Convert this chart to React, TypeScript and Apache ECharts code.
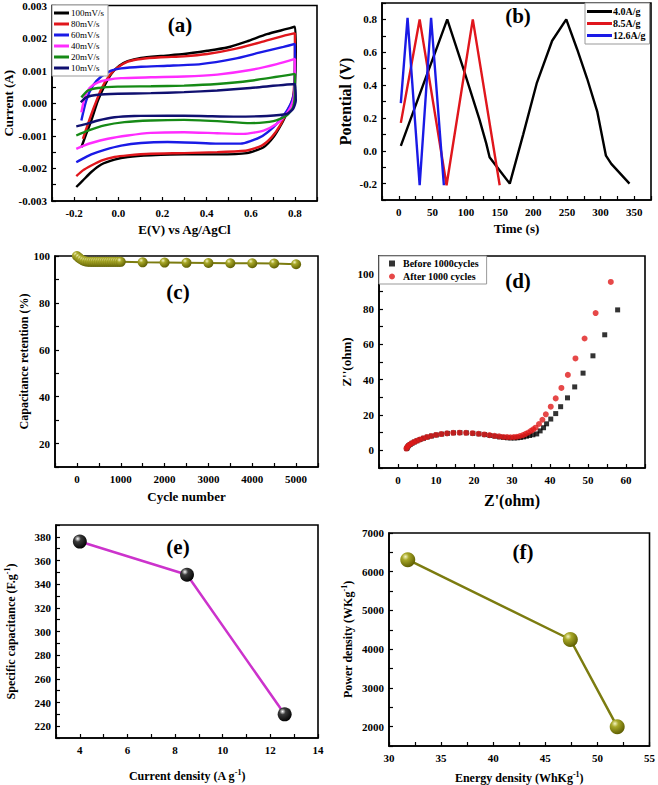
import React, { useEffect, useRef } from "react";
import * as echarts from "echarts";

// ---------- (a) CV curves: [E (V), I (A)] ----------
const cv100: number[][] = [[-0.167,-0.00135],[-0.145,-0.00094],[-0.122,-0.00053],[-0.092,0.00008],[-0.062,0.00054],[-0.032,0.0009],[0.005,0.00115],[0.043,0.00129],[0.103,0.00139],[0.193,0.00145],[0.298,0.00151],[0.403,0.00161],[0.493,0.00171],[0.583,0.0019],[0.673,0.00212],[0.763,0.00228],[0.8,0.00235],[0.804,0.00161],[0.8,0.00049],[0.792,0.00008],[0.77,-0.00022],[0.74,-0.00063],[0.703,-0.00104],[0.658,-0.00135],[0.583,-0.00153],[0.448,-0.00157],[0.298,-0.00157],[0.148,-0.0016],[0.043,-0.00165],[-0.017,-0.00173],[-0.077,-0.00188],[-0.122,-0.00211],[-0.16,-0.00237],[-0.19,-0.00257]];
const cv80: number[][] = [[-0.16,-0.00109],[-0.137,-0.00063],[-0.107,-0.00007],[-0.077,0.00044],[-0.04,0.00085],[-0.002,0.0011],[0.043,0.00128],[0.103,0.00136],[0.193,0.00141],[0.298,0.00144],[0.403,0.00151],[0.523,0.00166],[0.643,0.00187],[0.748,0.00207],[0.8,0.00215],[0.8,0.00131],[0.795,0.00039],[0.785,0.00003],[0.762,-0.00028],[0.733,-0.00068],[0.695,-0.00104],[0.65,-0.0013],[0.583,-0.00145],[0.448,-0.0015],[0.298,-0.00153],[0.148,-0.00155],[0.043,-0.0016],[-0.017,-0.00165],[-0.077,-0.00176],[-0.122,-0.00191],[-0.16,-0.00206],[-0.19,-0.00224]];
const cv60: number[][] = [[-0.167,-0.00053],[-0.145,0.00008],[-0.115,0.00054],[-0.077,0.00082],[-0.032,0.001],[0.013,0.00107],[0.103,0.00112],[0.223,0.00115],[0.373,0.0012],[0.523,0.00136],[0.643,0.00156],[0.748,0.00173],[0.8,0.00182],[0.8,0.0011],[0.795,0.00029],[0.777,-0.00007],[0.748,-0.00038],[0.703,-0.00073],[0.643,-0.00104],[0.553,-0.00124],[0.448,-0.00124],[0.373,-0.00122],[0.223,-0.00119],[0.103,-0.00122],[0.013,-0.0013],[-0.062,-0.00143],[-0.122,-0.00157],[-0.16,-0.0017],[-0.19,-0.00181]];
const cv40: number[][] = [[-0.167,-0.00028],[-0.152,0.00018],[-0.13,0.00047],[-0.092,0.00064],[-0.047,0.00072],[0.013,0.00077],[0.148,0.0008],[0.298,0.00082],[0.448,0.00088],[0.598,0.00102],[0.718,0.0012],[0.8,0.00136],[0.8,0.00069],[0.795,0.00018],[0.78,-0.00012],[0.755,-0.00038],[0.718,-0.00063],[0.658,-0.00084],[0.568,-0.00094],[0.448,-0.00092],[0.298,-0.00089],[0.148,-0.00091],[0.043,-0.00099],[-0.047,-0.00109],[-0.122,-0.00122],[-0.167,-0.00133],[-0.19,-0.0014]];
const cv20: number[][] = [[-0.167,0.00018],[-0.137,0.00039],[-0.092,0.00047],[-0.002,0.00051],[0.148,0.00052],[0.298,0.00054],[0.448,0.00059],[0.598,0.00069],[0.8,0.0009],[0.8,0.00039],[0.792,-0.00012],[0.762,-0.00038],[0.703,-0.00055],[0.598,-0.00061],[0.448,-0.00055],[0.298,-0.00051],[0.148,-0.00053],[0.028,-0.00058],[-0.062,-0.00068],[-0.137,-0.00084],[-0.19,-0.00099]];
const cv10: number[][] = [[-0.17,0.00003],[-0.145,0.00018],[-0.092,0.00026],[-0.002,0.00029],[0.148,0.00031],[0.298,0.00034],[0.448,0.00039],[0.598,0.00047],[0.8,0.00059],[0.804,0.00008],[0.792,-0.00017],[0.762,-0.00033],[0.673,-0.00039],[0.523,-0.00041],[0.373,-0.00039],[0.223,-0.00038],[0.073,-0.00039],[-0.017,-0.00043],[-0.092,-0.00053],[-0.152,-0.00065],[-0.19,-0.00071]];
const cvNames = ["100mV/s", "80mV/s", "60mV/s", "40mV/s", "20mV/s", "10mV/s"];
const cvColors = ["#000000", "#e0161c", "#1a1ae6", "#ff2cff", "#168a16", "#101070"];

// ---------- (b) GCD: [t (s), V] ----------
const gcd40: number[][] = [[3,0.03],[20,0.22],[37,0.41],[55,0.61],[72,0.8],[96,0.5],[120,0.19],[130,0.045],[135,-0.04],[150,-0.12],[165,-0.2],[185,0.1],[205,0.41],[228,0.67],[249,0.8],[265,0.62],[280,0.44],[295,0.24],[308,-0.03],[316,-0.08],[343,-0.2]];
const gcd85: number[][] = [[3,0.17],[31,0.8],[71,-0.21],[110,0.8],[150,-0.21]];
const gcd126: number[][] = [[3,0.29],[13,0.81],[31,-0.21],[48,0.81],[67,-0.21]];
const gcdNames = ["4.0A/g", "8.5A/g", "12.6A/g"];
const gcdColors = ["#000000", "#e0161c", "#1a1ae6"];

// ---------- (c) cycling ----------
const cycleNumbers = [0,50,100,150,200,250,300,350,400,450,500,550,600,650,700,750,800,850,900,950,1000,1500,2000,2500,3000,3500,4000,4500,5000];
const retention = [100,99.2,98.5,98.0,97.7,97.6,97.5,97.5,97.5,97.5,97.5,97.5,97.5,97.5,97.5,97.5,97.5,97.5,97.5,97.5,97.5,97.3,97.2,97.1,97.0,96.9,96.9,96.8,96.5];

// ---------- (d) Nyquist ----------
const nyqBefore: number[][] = [[2.3,1.0],[2.5,1.8],[2.8,2.6],[3.2,3.3],[3.7,4.0],[4.3,4.7],[5.0,5.4],[5.8,6.1],[6.7,6.8],[7.7,7.5],[8.8,8.1],[10.1,8.7],[11.5,9.2],[13.0,9.6],[14.6,9.9],[16.3,10.0],[18.0,9.9],[19.7,9.6],[21.3,9.3],[22.8,8.9],[24.2,8.4],[25.5,8.0],[26.7,7.6],[27.8,7.3],[28.8,7.1],[29.7,7.0],[30.6,7.0],[31.4,7.1],[32.2,7.3],[33.0,7.6],[33.8,8.0],[34.6,8.4],[35.5,8.8],[36.5,9.3],[37.4,11.0],[38.3,12.8],[39.1,15.0],[40.2,17.7],[41.5,20.8],[42.8,24.7],[44.6,29.7],[46.5,35.9],[48.7,43.7],[51.3,53.5],[54.4,65.4],[57.8,79.5]];
const nyqAfter: number[][] = [[2.2,1.0],[2.4,1.8],[2.7,2.6],[3.1,3.3],[3.6,4.0],[4.2,4.7],[4.9,5.4],[5.7,6.1],[6.6,6.8],[7.6,7.5],[8.7,8.1],[10.0,8.7],[11.4,9.2],[12.9,9.6],[14.5,9.9],[16.2,10.0],[17.9,9.9],[19.6,9.7],[21.2,9.4],[22.7,9.0],[24.1,8.6],[25.4,8.2],[26.6,7.9],[27.7,7.6],[28.7,7.5],[29.6,7.4],[30.5,7.5],[31.3,7.7],[32.1,8.1],[32.9,8.6],[33.6,9.3],[34.3,10.1],[35.0,11.0],[35.6,11.9],[36.2,12.8],[37.1,14.9],[38.0,17.3],[38.9,20.4],[40.2,24.7],[41.5,29.4],[43.0,35.3],[44.7,42.7],[46.7,52.0],[49.1,63.3],[52.0,77.7],[56.0,95.3]];

// ---------- (e) rate capability ----------
const currentDensity = [4, 8.5, 12.6];
const specificCapacitance = [376, 348, 230];

// ---------- (f) Ragone ----------
const energyDensity = [31.8, 47.4, 51.9];
const powerDensity = [6310, 4250, 2000];

const FONT = "'Liberation Serif', 'Times New Roman', serif";

function sphere(light: string, mid: string, dark: string) {
  return new echarts.graphic.RadialGradient(0.35, 0.3, 0.75, [
    { offset: 0, color: light },
    { offset: 0.3, color: mid },
    { offset: 1, color: dark },
  ]);
}

function richFor(size: number) {
  return {
    n: { fontFamily: FONT, fontWeight: "bold", fontSize: size, color: "#000" },
    s: { fontFamily: FONT, fontWeight: "bold", fontSize: size - 4, color: "#000", padding: [0, 0, 7, 0] },
  };
}
function axisOf(isX: boolean, grid: number, min: number, max: number, interval: number, show: (v: number) => boolean, fmt: (v: number) => string, name: any, nameGap: number, nameSize = 13) {
  return {
    type: "value", gridIndex: grid, min, max, interval,
    name, nameLocation: "middle", nameGap,
    nameTextStyle: { fontFamily: FONT, fontWeight: "bold", fontSize: nameSize, color: "#000", rich: richFor(nameSize) },
    axisLine: { show: true, onZero: false, lineStyle: { color: "#000", width: 1.6 } },
    axisTick: { show: true, inside: true, length: 4, lineStyle: { color: "#000", width: 1.2 } },
    axisLabel: { fontFamily: FONT, fontWeight: "bold", fontSize: 11, color: "#000", margin: isX ? 6 : 5, formatter: (v: number) => (show(v) ? fmt(v) : "") },
    splitLine: { show: false },
  };
}
const even = (step: number) => (v: number) => Math.round(v / step) % 2 === 0;

export default function App() {
  const ref = useRef<HTMLDivElement>(null);
  useEffect(() => {
    if (!ref.current) return;
    const chart = echarts.init(ref.current, null, { renderer: "svg" });
    const gridBox = { show: true, borderColor: "#000", borderWidth: 1.6, backgroundColor: "transparent" };
    const cvData = [cv100, cv80, cv60, cv40, cv20, cv10];
    const gcdData = [gcd40, gcd85, gcd126];
    const blackSphere = sphere("#ffffff", "#3a3a3a", "#000000");
    const oliveSphere = sphere("#f4f4c0", "#a8a828", "#5a5a00");

    const series: any[] = [];
    cvData.forEach((d, i) =>
      series.push({ type: "line", name: cvNames[i], xAxisIndex: 0, yAxisIndex: 0, data: d, showSymbol: false, symbol: "none", smooth: 0.2, lineStyle: { color: cvColors[i], width: 2.4 }, itemStyle: { color: cvColors[i] } })
    );
    gcdData.forEach((d, i) =>
      series.push({ type: "line", name: gcdNames[i], xAxisIndex: 1, yAxisIndex: 1, data: d, showSymbol: false, symbol: "none", lineStyle: { color: gcdColors[i], width: 2.4 }, itemStyle: { color: gcdColors[i] } })
    );
    series.push({
      type: "line", xAxisIndex: 2, yAxisIndex: 2,
      data: cycleNumbers.map((c, i) => [c, retention[i]]),
      symbol: "circle", symbolSize: 10, lineStyle: { color: "#7c7c10", width: 2 },
      itemStyle: { color: oliveSphere, borderWidth: 0 },
    });
    series.push({ type: "scatter", name: "Before 1000cycles", xAxisIndex: 3, yAxisIndex: 3, data: nyqBefore, symbol: "rect", symbolSize: 5, itemStyle: { color: "#000" } });
    series.push({ type: "scatter", name: "After 1000 cycles", xAxisIndex: 3, yAxisIndex: 3, data: nyqAfter, symbol: "circle", symbolSize: 6, itemStyle: { color: "#e01a1a" } });
    series.push({
      type: "line", xAxisIndex: 4, yAxisIndex: 4,
      data: currentDensity.map((c, i) => [c, specificCapacitance[i]]),
      symbol: "circle", symbolSize: 14, lineStyle: { color: "#cc33cc", width: 2.5 },
      itemStyle: { color: blackSphere, borderWidth: 0 },
    });
    series.push({
      type: "line", xAxisIndex: 5, yAxisIndex: 5,
      data: energyDensity.map((e, i) => [e, powerDensity[i]]),
      symbol: "circle", symbolSize: 15, lineStyle: { color: "#7c7c10", width: 2.5 },
      itemStyle: { color: oliveSphere, borderWidth: 0 },
    });

    const legendText = { fontFamily: FONT, color: "#000" };
    const panelLabel = (text: string, x: number, y: number) => ({
      type: "text", x, y,
      style: { text, align: "center", verticalAlign: "middle", fontFamily: FONT, fontWeight: "bold", fontSize: 21, fill: "#000" },
    });

    chart.setOption({
      animation: false,
      backgroundColor: "#fff",
      grid: [
        { left: 52, top: 5, width: 265, height: 196, ...gridBox },
        { left: 382, top: 3, width: 269, height: 197, ...gridBox },
        { left: 55, top: 256, width: 263, height: 211, ...gridBox },
        { left: 379, top: 256, width: 266, height: 212, ...gridBox },
        { left: 56, top: 525, width: 262, height: 213, ...gridBox },
        { left: 389, top: 533, width: 264, height: 213, ...gridBox },
      ],
      xAxis: [
        axisOf(true, 0, -0.3, 0.9, 0.1, even(0.1), (v) => v.toFixed(1), "E(V) vs Ag/AgCl", 22),
        axisOf(true, 1, -25, 375, 25, even(25), (v) => String(v), "Time (s)", 22),
        axisOf(true, 2, -500, 5500, 500, even(500), (v) => String(v), "Cycle number", 23),
        axisOf(true, 3, -5, 65, 5, even(5), (v) => String(v), "Z'(ohm)", 24, 16),
        axisOf(true, 4, 3, 14, 1, even(1), (v) => String(v), "{n|Current density (A g}{s|-1}{n|)}", 30, 12),
        axisOf(true, 5, 30, 55, 2.5, even(2.5), (v) => String(v), "{n|Energy density (WhKg}{s|-1}{n|)}", 24, 12),
      ],
      yAxis: [
        axisOf(false, 0, -0.003, 0.003, 0.0005, even(0.0005), (v) => v.toFixed(3), "Current (A)", 34),
        axisOf(false, 1, -0.3, 0.9, 0.1, even(0.1), (v) => v.toFixed(1), "Potential (V)", 29, 16),
        axisOf(false, 2, 10, 100, 10, even(10), (v) => String(v), "Capacitance retention (%)", 23, 12),
        axisOf(false, 3, -10, 110, 10, even(10), (v) => String(v), "Z''(ohm)", 26, 13),
        axisOf(false, 4, 210, 390, 10, even(10), (v) => String(v), "{n|Specific capacitance (F.g}{s|-1}{n|)}", 38, 12),
        axisOf(false, 5, 1500, 7000, 500, even(500), (v) => String(v), "{n|Power density (WKg}{s|-1}{n|)}", 34, 12),
      ],
      legend: [
        {
          data: cvNames, left: 52, top: 5, orient: "vertical", icon: "rect",
          itemWidth: 15, itemHeight: 3, itemGap: 1, padding: [3, 4, 3, 2],
          borderColor: "#999", borderWidth: 1, backgroundColor: "#fff",
          textStyle: { ...legendText, fontSize: 9, lineHeight: 10, padding: [0, 0, 0, -3] },
          selectedMode: false,
        },
        {
          data: gcdNames, left: 585, top: 3, orient: "vertical", icon: "rect",
          itemWidth: 25, itemHeight: 3, itemGap: 1, padding: [3, 4, 3, 2],
          borderColor: "#999", borderWidth: 1, backgroundColor: "#fff",
          textStyle: { ...legendText, fontSize: 10, fontWeight: "bold", lineHeight: 11, padding: [0, 0, 0, -4] },
          selectedMode: false,
        },
        {
          data: [{ name: "Before 1000cycles", icon: "rect" }, { name: "After 1000 cycles", icon: "circle" }],
          left: 379, top: 256, orient: "vertical",
          itemWidth: 6, itemHeight: 6, itemGap: 2, padding: [2, 8, 2, 10],
          borderColor: "#999", borderWidth: 1, backgroundColor: "#fff",
          textStyle: { ...legendText, fontSize: 10, fontWeight: "bold", lineHeight: 11, padding: [0, 0, 0, 3] },
          selectedMode: false,
        },
      ],
      graphic: [
        panelLabel("(a)", 180, 25),
        panelLabel("(b)", 518, 16),
        panelLabel("(c)", 178, 292),
        panelLabel("(d)", 518, 281),
        panelLabel("(e)", 178, 547),
        panelLabel("(f)", 523, 552),
      ],
      series,
    });
    return () => chart.dispose();
  }, []);
  return <div ref={ref} style={{ position: "absolute", left: 0, top: 0, width: 658, height: 785 }} />;
}
